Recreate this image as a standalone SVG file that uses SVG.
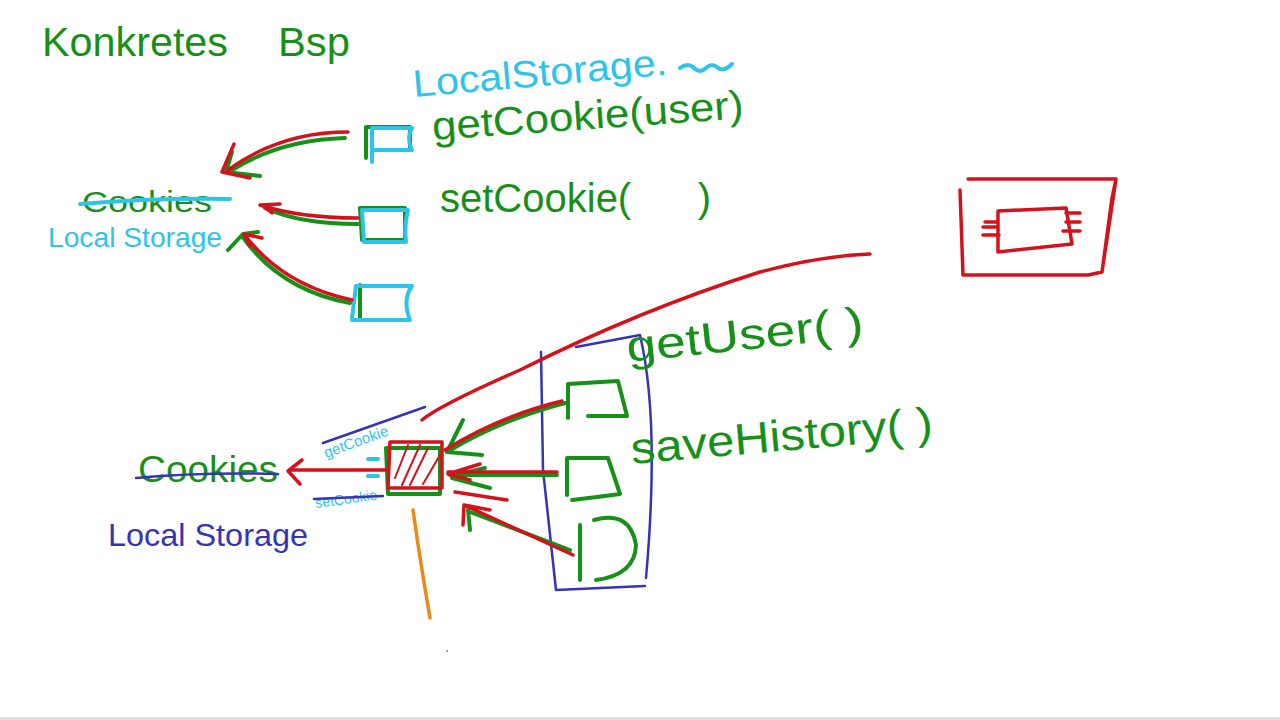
<svg xmlns="http://www.w3.org/2000/svg" width="1280" height="720" viewBox="0 0 1280 720">
<style>
.g{stroke:#17901a;fill:none;stroke-width:4;stroke-linecap:round;stroke-linejoin:round}
.c{stroke:#2ec4ea;fill:none;stroke-width:4;stroke-linecap:round;stroke-linejoin:round}
.r{stroke:#d4121c;fill:none;stroke-width:3.5;stroke-linecap:round;stroke-linejoin:round}
.rt{stroke:#d4121c;fill:none;stroke-width:2;stroke-linecap:round;stroke-linejoin:round}
.b{stroke:#3434b4;fill:none;stroke-width:2.5;stroke-linecap:round;stroke-linejoin:round}
.o{stroke:#e88a18;fill:none;stroke-width:3.5;stroke-linecap:round}
text{font-family:"Liberation Sans","DejaVu Sans",sans-serif}
.tg{fill:#17901a}
.tc{fill:#2ec4ea}
.tb{fill:#3434b4}
</style>
<rect width="1280" height="720" fill="#ffffff"/>
<line x1="0" y1="718.5" x2="1280" y2="718.5" stroke="#d0d0d0" stroke-width="2"/>

<g id="title"><text class="tg" x="42" y="56" font-size="40" textLength="186" lengthAdjust="spacingAndGlyphs">Konkretes</text><text class="tg" x="278" y="56" font-size="40" textLength="72" lengthAdjust="spacingAndGlyphs">Bsp</text></g>

<g id="ls-header">
<text class="tc" x="414" y="97" font-size="38" transform="rotate(-5 414 97)" textLength="255" lengthAdjust="spacingAndGlyphs">LocalStorage.</text>
<path class="c" d="M680 68 q8 -6 14 0 q6 6 12 0 q6 -6 12 0 q6 4 14 -4"/>
</g>
<g id="label-getcookie"><text class="tg" x="433" y="140" font-size="40" transform="rotate(-4 433 140)" textLength="312" lengthAdjust="spacingAndGlyphs">getCookie(user)</text></g>
<g id="label-setcookie"><text class="tg" x="440" y="212" font-size="40" xml:space="preserve">setCookie(      )</text></g>

<g id="storage-top">
<text class="tg" x="82" y="212" font-size="30" textLength="130" lengthAdjust="spacingAndGlyphs">Cookies</text>
<path class="c" d="M80 204 Q150 198 230 199"/>
<text class="tc" x="48" y="247" font-size="28" textLength="174" lengthAdjust="spacingAndGlyphs">Local Storage</text>
</g>

<g id="box-top1"><path class="g" d="M366 158 V127 H410 V150 H374"/><path class="c" d="M372 162 V128 H412 q-6 10 0 22 H374"/></g>
<g id="box-top2"><path class="g" d="M360 208 H405 V240 H362 Z"/><path class="c" d="M362 210 H408 q-4 16 -2 32 H364 Z"/></g>
<g id="box-top3"><path class="g" d="M360 285 V320 H405"/><path class="c" d="M352 318 L356 286 H412 q-10 14 -2 34 H352"/></g>

<g id="frame-right">
<path class="r" d="M968 179 H1116 L1112 198 L1102 272 M1116 179 L1102 272 L1088 275 H963 L960 190"/>
<path class="r" d="M998 211 L1066 208 L1072 244 L998 252 Z M985 222 H998 M983 227 H998 M983 235 H999 M1066 213 H1080 M1066 222 H1080 M1063 231 H1080"/>
</g>

<g id="service-col">
<path class="b" d="M541 352 L543 470 L556 590 L645 586 M576 347 L640 335 Q660 420 646 578"/>
</g>
<g id="m-getuser"><path class="g" d="M568 418 V384 L618 381 L627 416 H588"/></g>
<g id="m-savehistory"><path class="g" d="M567 495 V458 H608 L620 494 Q598 497 572 500"/></g>
<g id="m-third"><path class="g" d="M580 580 V525 M594 520 Q630 510 636 545 Q635 575 596 580"/></g>
<g id="label-getuser"><text class="tg" x="628" y="362" font-size="44" transform="rotate(-6 628 362)" textLength="238" lengthAdjust="spacingAndGlyphs">getUser( )</text></g>
<g id="label-savehistory"><text class="tg" x="632" y="464" font-size="44" transform="rotate(-5 632 464)" textLength="303" lengthAdjust="spacingAndGlyphs">saveHistory( )</text></g>

<g id="wrapper">
<path class="g" d="M386 448 H440 V494 H388 Z"/>
<path class="r" d="M390 442 H442 V488 H388 Z"/>
<path class="rt" d="M395 478 L408 445 M402 485 L420 445 M410 485 L428 448 M423 484 L440 455"/>
<path class="c" d="M368 459 h10 M368 476 h10"/>
<text class="tc" x="326" y="458" font-size="15" transform="rotate(-20 326 458)">getCookie</text>
<path class="b" d="M323 443 L425 407"/>
<text class="tc" x="316" y="508" font-size="14" transform="rotate(-8 316 508)">setCookie</text>
<path class="b" d="M314 499 L383 496"/>
</g>

<g id="storage-bottom">
<text class="tg" x="138" y="482" font-size="36" textLength="140" lengthAdjust="spacingAndGlyphs">Cookies</text>
<path class="b" d="M136 478 Q200 472 278 474"/>
<text class="tb" x="108" y="546" font-size="32" textLength="200" lengthAdjust="spacingAndGlyphs">Local Storage</text>
</g>

<g id="connectors">
<path class="g" d="M345 138 Q280 140 232 170 M232 152 L226 172 L260 176"/>
<path class="r" d="M348 132 Q280 132 228 170 M234 144 L222 172 L250 178"/>
<path class="g" d="M358 224 Q300 224 265 208"/>
<path class="r" d="M358 218 Q300 218 260 205 M262 205 L272 213 M260 205 L280 204"/>
<path class="g" d="M350 303 Q280 290 242 236 M228 250 L243 234 L258 232"/>
<path class="r" d="M352 300 Q282 285 244 234 M244 234 L250 246 M244 234 L262 238"/>
<path class="r" d="M387 470 H290 M302 460 L288 471 L300 484"/>
<path class="r" d="M422 420 Q440 405 520 370 Q640 310 760 272 Q820 256 870 254"/>
<path class="g" d="M565 403 Q500 420 447 452 M463 420 L447 452 L482 455"/>
<path class="r" d="M562 401 Q500 416 445 450"/>
<path class="g" d="M557 475 H450 M485 468 L452 476 M452 478 L490 488"/>
<path class="r" d="M557 472 H448 M480 464 L448 474 L470 480 M455 492 L507 500"/>
<path class="g" d="M570 550 L470 512 M468 510 L470 530"/>
<path class="r" d="M573 555 L464 505 M464 505 L463 525 M464 505 L490 510"/>
<path class="o" d="M413 510 Q420 560 430 618"/>
<circle cx="447" cy="651" r="1" fill="#a08050"/>
</g>
</svg>
